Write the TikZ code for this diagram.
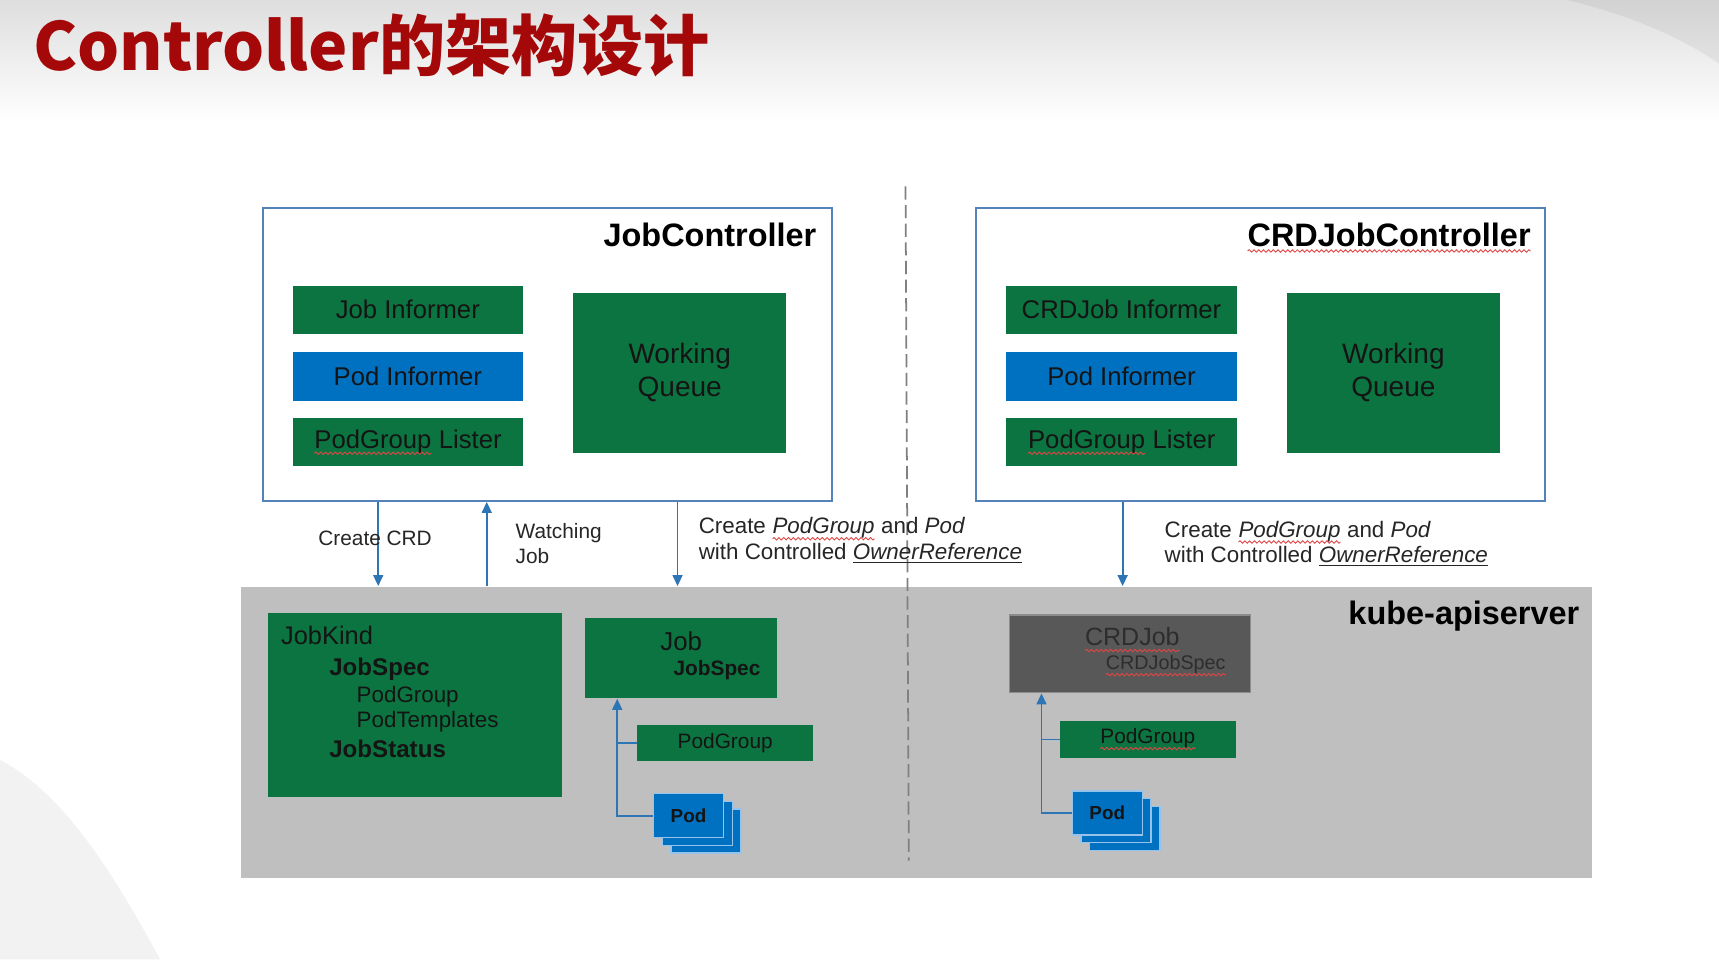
\documentclass[tikz,border=0pt]{standalone}
\usepackage{fontspec}
\setmainfont{Liberation Sans}
\newfontfamily\cjk{Noto Sans CJK SC}
\usetikzlibrary{arrows.meta,decorations.pathmorphing}
\definecolor{kgreen}{RGB}{12,116,64}
\definecolor{kblue}{RGB}{0,112,192}
\definecolor{bandgray}{RGB}{191,191,191}
\definecolor{ctrlborder}{RGB}{84,130,185}
\definecolor{arrowblue}{RGB}{46,117,182}
\definecolor{titlered}{RGB}{165,8,8}
\definecolor{darkbox}{RGB}{88,88,88}
\definecolor{darktext}{RGB}{45,45,45}
\definecolor{spellred}{RGB}{225,70,70}
\definecolor{podedge}{RGB}{150,195,235}
\definecolor{boxtext}{RGB}{20,20,20}
\definecolor{dashgray}{RGB}{128,128,128}
\newcommand\spellwave[1]{\tikz[baseline=(spw.base)]{\node[inner sep=0pt, outer sep=0pt, anchor=base, minimum width=0pt, minimum height=0pt, draw=none, fill=none, align=left] (spw) at (0,0) {#1}; \draw[spellred, line width=0.4pt, decorate, decoration={snake, amplitude=0.55pt, segment length=2.2pt}] ([yshift=-2.2pt]spw.base west) -- ([yshift=-2.2pt]spw.base east);}}
\begin{document}
\begin{tikzpicture}[x=0.5pt,y=-0.5pt,
  ctrl/.style={draw=ctrlborder, line width=0.8pt, fill=white, minimum width=259.5pt, minimum height=133.5pt, inner sep=0pt},
  gbox/.style={fill=kgreen, text=boxtext, inner sep=0pt, font=\fontsize{11.7}{14}\selectfont},
  bbox/.style={fill=kblue, text=boxtext, inner sep=0pt, font=\fontsize{11.7}{14}\selectfont},
  infobox/.style={minimum width=105pt, minimum height=22pt},
  queuebox/.style={gbox, minimum width=97pt, minimum height=73pt, align=center, font=\fontsize{12.8}{15}\selectfont},
  ctitle/.style={font=\bfseries\fontsize{14.8}{17}\selectfont, inner sep=0pt, anchor=base east},
  lbl/.style={font=\fontsize{9.5}{11.5}\selectfont, inner sep=0pt, anchor=base west, text=black!85},
  lblb/.style={font=\fontsize{10.2}{11.5}\selectfont, inner sep=0pt, anchor=base west, text=black!85},
  arr/.style={draw=arrowblue, line width=0.8pt, -{Triangle[length=5pt,width=4.5pt]}},
  conn/.style={draw=arrowblue, line width=0.8pt},
  pod/.style={fill=kblue, draw=podedge, line width=0.6pt, minimum width=32pt, minimum height=20pt, inner sep=0pt, text=boxtext, font=\bfseries\fontsize{8.6}{10}\selectfont},
  intext/.style={inner sep=0pt, anchor=base west, text=boxtext}
]
\useasboundingbox (0,0) rectangle (1568,875);
% slide background
\fill[white] (0,0) rectangle (1568,875);
\shade[top color={rgb,255:red,222;green,222;blue,222}, bottom color=white] (0,0) rectangle (1568,112);
\fill[black, opacity=0.05] (1430,0) .. controls (1490,15) and (1535,35) .. (1568,58) -- (1568,0) -- cycle;
\fill[black!5] (0,693) .. controls (50,720) and (92,775) .. (146,875) -- (0,875) -- cycle;

% title
\node[anchor=base west, inner sep=0pt, text=titlered, font=\cjk\bfseries\fontsize{30.2}{34}\selectfont] (title) at (30,64) {Controller的架构设计};

% kube-apiserver band
\node[fill=bandgray, minimum width=616pt, minimum height=133pt, inner sep=0pt] (api) at (836,668) {};
\node[ctitle] (apit) at (1441,570) {kube-apiserver};

% separator
\coordinate (dtop) at (826,170);
\coordinate (dbot) at (829,785);
\draw[dashgray, line width=0.8pt, dash pattern=on 6pt off 2.5pt] (dtop) -- (dbot);

% JobController
\node[ctrl] (jc) at (499.5,323.5) {};
\node[ctitle] (jct) at (745,224.5) {JobController};
\node[gbox, infobox] (ji) at (372,282.5) {Job Informer};
\node[bbox, infobox] (pi) at (372,343.5) {Pod Informer};
\node[gbox, infobox] (pl) at (372,403.5) {\spellwave{PodGroup} Lister};
\node[queuebox] (wq) at (620,340) {Working\\Queue};

% CRDJobController
\node[ctrl] (cc) at (1149.5,323.5) {};
\node[ctitle] (cct) at (1397,224.5) {\spellwave{CRDJobController}};
\node[gbox, infobox] (ci) at (1023,282.5) {CRDJob Informer};
\node[bbox, infobox] (cpi) at (1023,343.5) {Pod Informer};
\node[gbox, infobox] (cpl) at (1023,403.5) {\spellwave{PodGroup} Lister};
\node[queuebox] (cwq) at (1271,340) {Working\\Queue};

% arrows between controllers and apiserver
\coordinate (xa) at (345,0);
\coordinate (xb) at (444,0);
\coordinate (xc) at (618,0);
\coordinate (xd) at (1024,0);
\draw[arr] (xa |- jc.south) -- (xa |- api.north);
\draw[arr] (xb |- api.north) -- (xb |- jc.south);
\draw[arr] (xc |- jc.south) -- (xc |- api.north);
\draw[arr] (xd |- cc.south) -- (xd |- api.north);

\node[lbl] (lcrd) at (290,498) {Create CRD};
\node[lbl] (lw1) at (470,491) {Watching};
\node[lbl] (lw2) at (470,514) {Job};
\node[lblb] (lc1) at (637,487) {Create \spellwave{\textit{PodGroup}} and \textit{Pod}};
\node[lblb] (lc2) at (637,510) {with Controlled \underline{\textit{OwnerReference}}};
\node[lblb] (rc1) at (1062,490) {Create \spellwave{\textit{PodGroup}} and \textit{Pod}};
\node[lblb] (rc2) at (1062,513) {with Controlled \underline{\textit{OwnerReference}}};

% JobKind
\node[fill=kgreen, minimum width=134.5pt, minimum height=84pt, inner sep=0pt] (jk) at (378.5,643) {};
\node[intext, font=\fontsize{11.6}{13}\selectfont] (jk1) at (256,588) {JobKind};
\node[intext, font=\bfseries\fontsize{11}{13}\selectfont] (jk2) at (300,616) {JobSpec};
\node[intext, font=\fontsize{10.2}{12}\selectfont] (jk3) at (325,641) {PodGroup};
\node[intext, font=\fontsize{10.2}{12}\selectfont] (jk4) at (325,664) {PodTemplates};
\node[intext, font=\bfseries\fontsize{11}{13}\selectfont] (jk5) at (300,691) {JobStatus};

% Job tree (left)
\node[fill=kgreen, minimum width=87.5pt, minimum height=36.5pt, inner sep=0pt] (job) at (621.5,600.5) {};
\node[intext, font=\fontsize{11.8}{13}\selectfont] (job1) at (602,593) {Job};
\node[intext, font=\bfseries\fontsize{9.5}{11}\selectfont] (job2) at (614,616) {JobSpec};
\node[gbox, minimum width=80.5pt, minimum height=16.5pt, font=\fontsize{9.5}{11}\selectfont] (lpg) at (661.5,677.5) {PodGroup};
\node[pod] (lp3) at (644,758) {};
\node[pod] (lp2) at (636,751) {};
\node[pod] (lp1) at (628,744) {Pod};
\coordinate (xl) at (563,0);
\draw[arr] (lp1.west) -- (xl |- lp1.west) -- (xl |- job.south);
\draw[conn] (lpg.west) -- (xl |- lpg.west);

% CRDJob tree (right)
\node[fill=darkbox, draw=black!45, line width=0.5pt, minimum width=110pt, minimum height=35.5pt, inner sep=0pt] (crd) at (1031,596.5) {};
\node[intext, text=darktext, font=\fontsize{11.4}{13}\selectfont] (crd1) at (989,589) {\spellwave{CRDJob}};
\node[intext, text=darktext, font=\fontsize{9}{11}\selectfont] (crd2) at (1008,611) {\spellwave{CRDJobSpec}};
\node[gbox, minimum width=80pt, minimum height=16.5pt, font=\fontsize{9.5}{11}\selectfont] (rpg) at (1047,674.5) {\spellwave{PodGroup}};
\node[pod] (rp3) at (1026,755.5) {};
\node[pod] (rp2) at (1018,748.5) {};
\node[pod] (rp1) at (1010,741.5) {Pod};
\coordinate (xr) at (950,0);
\draw[arr] (rp1.west) -- (xr |- rp1.west) -- (xr |- crd.south);
\draw[conn] (rpg.west) -- (xr |- rpg.west);
\end{tikzpicture}
\end{document}
